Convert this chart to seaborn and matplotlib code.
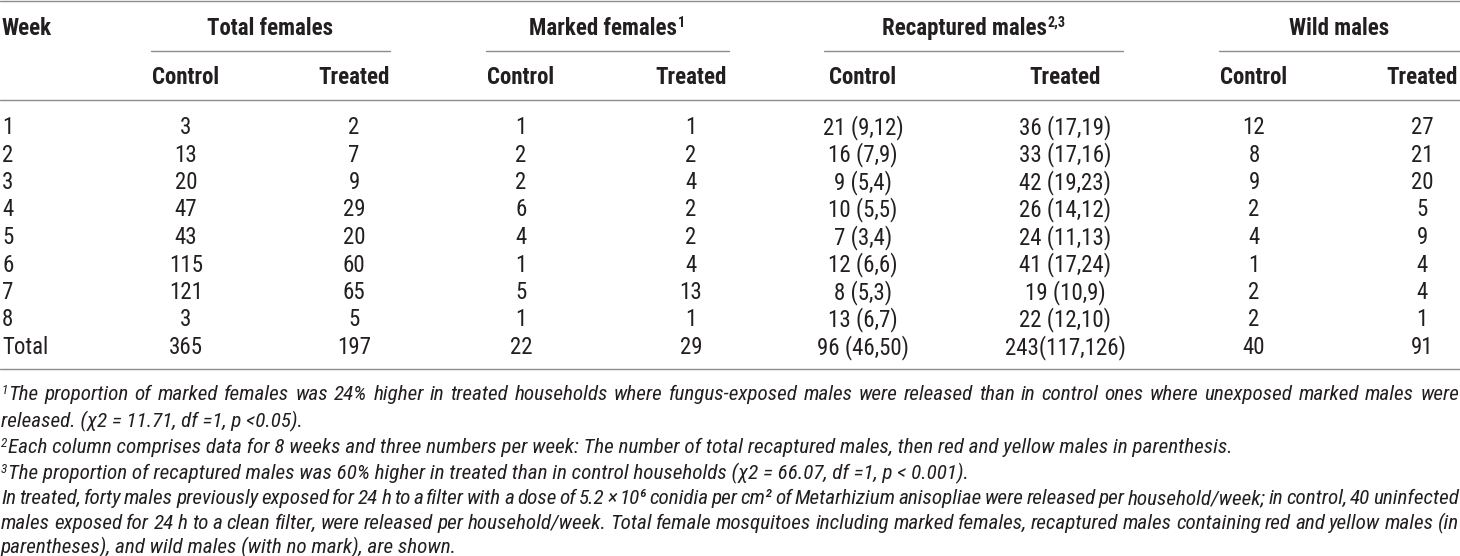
import matplotlib
matplotlib.use("Agg")
import matplotlib.pyplot as plt
import seaborn as sns

# table values
weeks = ["1", "2", "3", "4", "5", "6", "7", "8", "Total"]
total_f_control = [3, 13, 20, 47, 43, 115, 121, 3, 365]
total_f_treated = [2, 7, 9, 29, 20, 60, 65, 5, 197]
marked_f_control = [1, 2, 2, 6, 4, 1, 5, 1, 22]
marked_f_treated = [1, 2, 4, 2, 2, 4, 13, 1, 29]
recap_m_control = ["21 (9,12)", "16 (7,9)", "9 (5,4)", "10 (5,5)", "7 (3,4)",
                   "12 (6,6)", "8 (5,3)", "13 (6,7)", "96 (46,50)"]
recap_m_treated = ["36 (17,19)", "33 (17,16)", "42 (19,23)", "26 (14,12)", "24 (11,13)",
                   "41 (17,24)", "19 (10,9)", "22 (12,10)", "243(117,126)"]
wild_m_control = [12, 8, 9, 2, 4, 1, 2, 2, 40]
wild_m_treated = [27, 21, 20, 5, 9, 4, 4, 1, 91]

groups = ["Total females", "Marked females", "Recaptured males", "Wild males"]
group_sup = ["", "1", "2,3", ""]
subheads = ["Control", "Treated"]

# (superscript, text, justified)
footnotes = [
    ("1", "The proportion of marked females was 24% higher in treated households where fungus-exposed males were released than in control ones where unexposed marked males were", True),
    ("", "released. (χ2 = 11.71, df =1, p <0.05).", False),
    ("2", "Each column comprises data for 8 weeks and three numbers per week: The number of total recaptured males, then red and yellow males in parenthesis.", False),
    ("3", "The proportion of recaptured males was 60% higher in treated than in control households (χ2 = 66.07, df =1, p < 0.001).", False),
    ("", "In treated, forty males previously exposed for 24 h to a filter with a dose of 5.2 × 10⁶ conidia per cm² of Metarhizium anisopliae were released per household/week; in control, 40 uninfected", True),
    ("", "males exposed for 24 h to a clean filter, were released per household/week. Total female mosquitoes including marked females, recaptured males containing red and yellow males (in", True),
    ("", "parentheses), and wild males (with no mark), are shown.", False),
]

sns.set_theme(style="white")
fam = ["Roboto Condensed", "Liberation Sans Narrow", "Roboto", "DejaVu Sans"]
plt.rcParams["font.family"] = fam

W, H = 1460, 556
ink = "#231f20"
rule = "#8c8c8c"

fig = plt.figure(figsize=(W / 100, H / 100), dpi=100)
ax = fig.add_axes([0, 0, 1, 1])
ax.set_xlim(0, W)
ax.set_ylim(H, 0)
ax.axis("off")
renderer = fig.canvas.get_renderer()

def width(t):
    return t.get_window_extent(renderer).width

body_fs = 16.5
cap = 8   # half cap height in px, for baseline placement

# column layout
spans = [(151, 390), (486, 729), (824, 1123), (1219, 1460)]
centers = [186, 354, 521, 691, 863, 1065, 1254, 1422]
row_y0, row_dy = 126, 27.5

# rules
for ry in [1, 100, 369]:
    ax.axhline(ry, color=rule, lw=1.0)
for a, b in spans:
    ax.plot([a, b], [51, 51], color=rule, lw=1.0)

# header
ax.text(2, 27 + cap, "Week", fontsize=body_fs, fontweight="bold", color=ink,
        ha="left", va="baseline")
for (a, b), g, s in zip(spans, groups, group_sup):
    t = ax.text(0, 27 + cap, g, fontsize=body_fs, fontweight="bold", color=ink,
                ha="left", va="baseline")
    sp = None
    if s:
        sp = ax.text(0, 27 + cap - 8, s, fontsize=body_fs * 0.62, fontweight="bold",
                     color=ink, ha="left", va="baseline")
    w = width(t) + (width(sp) + 1 if sp else 0)
    x0 = (a + b) / 2 - w / 2
    t.set_x(x0)
    if sp:
        sp.set_x(x0 + width(t) + 1)
for i, c in enumerate(centers):
    t = ax.text(c, 76 + cap, subheads[i % 2], fontsize=body_fs, fontweight="bold",
                color=ink, ha="center", va="baseline")
    if c + width(t) / 2 > W - 1:
        t.set_x(W - 1)
        t.set_ha("right")

# body rows
cols = [total_f_control, total_f_treated, marked_f_control, marked_f_treated,
        recap_m_control, recap_m_treated, wild_m_control, wild_m_treated]
for r, wk in enumerate(weeks):
    y = row_y0 + r * row_dy + cap
    ax.text(2, y, wk, fontsize=body_fs, color=ink, ha="left", va="baseline")
    for c, col in zip(centers, cols):
        ax.text(c, y, str(col[r]), fontsize=body_fs, color=ink, ha="center", va="baseline")

# footnotes: size fitted so that note 2 ends where it ends in the source
probe = ax.text(0, 0, footnotes[2][1], fontsize=12, style="italic")
foot_fs = 12 * (1226 - 8) / width(probe)
probe.remove()

foot_y = [394, 421, 447, 473, 498, 523, 547]
for (sup, txt, just), fy in zip(footnotes, foot_y):
    y = fy + 6
    x = 1
    if sup:
        st = ax.text(x, y - 6, sup, fontsize=foot_fs * 0.62, style="italic", color=ink,
                     ha="left", va="baseline")
        x += width(st) + 1
    if not just:
        ax.text(x, y, txt, fontsize=foot_fs, style="italic", color=ink, ha="left", va="baseline")
        continue
    words = txt.split(" ")
    fs = foot_fs
    while True:
        items = [ax.text(0, y, wd, fontsize=fs, style="italic", color=ink,
                         ha="left", va="baseline") for wd in words]
        ws = [width(t) for t in items]
        gap = (W - 1 - x - sum(ws)) / (len(words) - 1)
        if gap >= fs * 0.18 or fs < 8:
            break
        for t in items:
            t.remove()
        fs -= 0.1
    for t, wd in zip(items, ws):
        t.set_x(x)
        x += wd + gap

fig.savefig("out.png", dpi=100, facecolor="white")
